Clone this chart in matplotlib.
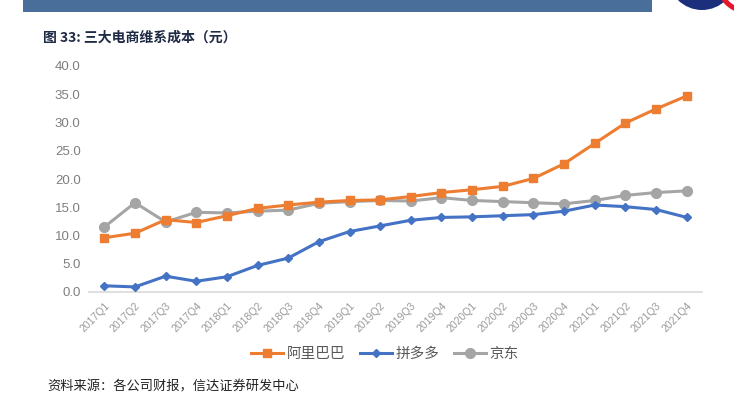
import matplotlib
matplotlib.use("Agg")
import matplotlib.pyplot as plt
from matplotlib.patches import Rectangle, Circle, Wedge

plt.rcParams["font.family"] = ["Noto Sans CJK SC", "DejaVu Sans"]

quarters = [
    "2017Q1", "2017Q2", "2017Q3", "2017Q4",
    "2018Q1", "2018Q2", "2018Q3", "2018Q4",
    "2019Q1", "2019Q2", "2019Q3", "2019Q4",
    "2020Q1", "2020Q2", "2020Q3", "2020Q4",
    "2021Q1", "2021Q2", "2021Q3", "2021Q4",
]
alibaba = [9.6, 10.4, 12.8, 12.3, 13.5, 14.8, 15.4, 15.9, 16.2, 16.3,
           16.9, 17.6, 18.1, 18.7, 20.1, 22.7, 26.3, 29.9, 32.4, 34.7]
pinduoduo = [1.1, 0.9, 2.8, 1.9, 2.7, 4.7, 6.0, 8.9, 10.7, 11.7,
             12.7, 13.2, 13.3, 13.5, 13.7, 14.3, 15.4, 15.1, 14.6, 13.2]
jd = [11.5, 15.8, 12.4, 14.1, 14.0, 14.3, 14.5, 15.7, 16.0, 16.2,
      16.1, 16.7, 16.2, 16.0, 15.8, 15.6, 16.2, 17.1, 17.6, 17.9]
yticks = [0, 5, 10, 15, 20, 25, 30, 35, 40]

W, H = 734, 396
fig = plt.figure(figsize=(W / 100, H / 100), dpi=100)

# header bar and logo
fig.add_artist(Rectangle((23 / W, 1 - 12 / H), (652 - 23) / W, 12 / H,
                         transform=fig.transFigure, color="#4a6e9a", lw=0))
logo = fig.add_axes([660 / W, 1 - 40 / H, 80 / W, 40 / H])
logo.set_xlim(660, 740)
logo.set_ylim(40, 0)
logo.set_aspect("equal")
logo.axis("off")
logo.add_patch(Circle((702, -24), 34, color="#1c2f7d", lw=0))
logo.add_patch(Wedge((748, -18), 32, 100, 170, width=5, color="#e6162d", lw=0))
logo.add_patch(Wedge((748, -18), 23, 105, 165, width=4, color="#e6162d", lw=0))

fig.text(43 / W, 1 - 38 / H, "图 33: 三大电商维系成本（元）", fontsize=10,
         fontweight="bold", color="#1f2a44", va="center", ha="left")

ax = fig.add_axes([89 / W, 104 / H, (702 - 89) / W, 226 / H])
x = range(len(quarters))
ax.plot(x, alibaba, color="#ED7D31", lw=2.2, marker="s", ms=6, label="阿里巴巴", zorder=3)
ax.plot(x, pinduoduo, color="#4472C4", lw=2.2, marker="D", ms=4.5, label="拼多多", zorder=3)
ax.plot(x, jd, color="#A5A5A5", lw=2.2, marker="o", ms=7, label="京东", zorder=2)

ax.set_xlim(-0.5, len(quarters) - 0.5)
ax.set_ylim(0, 40)
ax.set_yticks(yticks)
ax.set_yticklabels([f"{v:.1f}" for v in yticks], fontsize=9.5, color="#7f7f7f",
                   family=["Liberation Sans", "DejaVu Sans"])
ax.set_xticks(list(x))
ax.set_xticklabels(quarters, rotation=45, ha="right", rotation_mode="anchor",
                   fontsize=7.5, color="#999999", family=["Liberation Sans", "DejaVu Sans"])
ax.tick_params(axis="both", length=0, pad=6)
for s in ["top", "right", "left"]:
    ax.spines[s].set_visible(False)
ax.spines["bottom"].set_color("#d9d9d9")
ax.spines["bottom"].set_linewidth(1.2)

leg = fig.legend(loc="center", bbox_to_anchor=(385 / W, 1 - 354 / H), ncol=3,
                 frameon=False, fontsize=10.5, handlelength=2.2, columnspacing=1.0,
                 handletextpad=0.25)
for t in leg.get_texts():
    t.set_color("#595959")

fig.text(47 / W, 1 - 381 / H, "资料来源：各公司财报，信达证券研发中心", fontsize=9.5,
         color="#222222", va="top", ha="left", style="italic")

fig.savefig("out.png", dpi=100)
